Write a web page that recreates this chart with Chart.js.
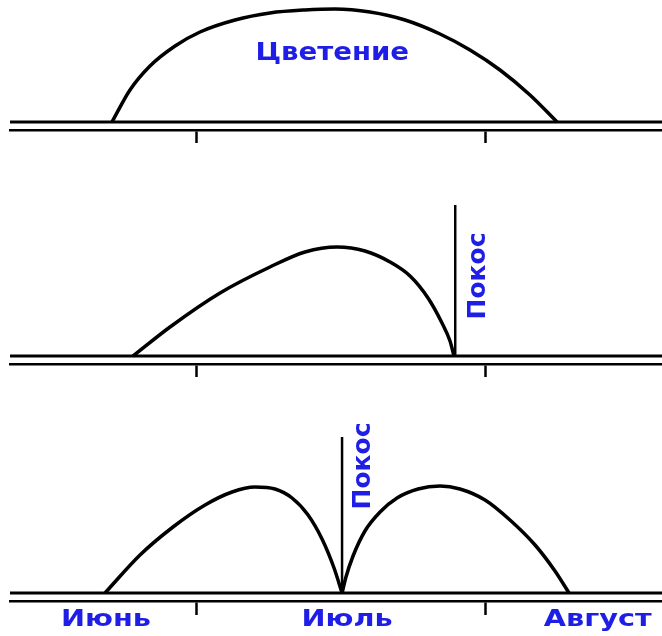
<!DOCTYPE html>
<html>
<head>
<meta charset="utf-8">
<script src="https://cdn.jsdelivr.net/npm/chart.js@4/dist/chart.umd.min.js"></script>
<style>
  html, body { margin: 0; padding: 0; background: #fff; }
  body { width: 662px; height: 636px; overflow: hidden; position: relative; }
  canvas { position: absolute; left: 0; }
</style>
</head>
<body>
<canvas id="p1" width="662" height="143" style="top:0px"></canvas>
<canvas id="p2" width="662" height="187" style="top:190px"></canvas>
<canvas id="p3" width="662" height="225" style="top:420px"></canvas>
<script>
// x = day counted from 1 June, y = plant height (arbitrary units)
var months = ["Июнь", "Июль", "Август"];
var monthLabelDays = [20.3, 46.2, 73.1];
var monthBounds = [30, 61];

// panel 1 - no mowing
var bloomDays   = [20.95, 22.88, 25.03, 27.72, 30.40, 34.16, 37.91, 41.67, 44.89, 48.65, 52.41, 56.17, 59.39, 62.61, 65.83, 68.73];
var bloomHeight = [0, 32, 56, 76, 90, 102, 109, 112, 113, 110, 102, 88, 72, 52, 27, 0];

// panel 2 - late mowing
var lateDays   = [23.21, 27.18, 32.55, 37.91, 41.67, 45.11, 48.11, 50.80, 52.95, 54.88, 56.38, 57.24, 57.67];
var lateHeight = [0, 29, 63, 89, 104, 109, 105, 94, 80, 58, 33, 15, 0];
var lateCutDay = 57.8;

// panel 3 - mowing in early July and regrowth
var earlyDays    = [20.20, 23.96, 27.50, 30.94, 33.84, 36.30, 38.45, 40.28, 42.00, 43.50, 44.79, 45.65];
var earlyHeight  = [0, 38, 66, 88, 101, 106, 104, 95, 78, 54, 25, 0];
var regrowDays   = [45.65, 46.07, 46.83, 48.11, 49.73, 51.55, 53.81, 56.17, 58.31, 61.00, 63.68, 66.37, 68.51, 70.02];
var regrowHeight = [0, 16, 37, 62, 81, 95, 104, 107, 104, 93, 73, 48, 22, 0];
var earlyCutDay = 45.65;

var cutHeights = [151, 156];

function pts(xs, ys) {
  return xs.map(function (x, i) { return { x: x, y: ys[i] }; });
}

function arch(data) {
  return { data: data, borderColor: "#000", borderWidth: 3.5, pointRadius: 0,
           cubicInterpolationMode: "monotone", fill: false };
}
function stem(day, h) {
  return { data: [{ x: day, y: 0 }, { x: day, y: h }], borderColor: "#000",
           borderWidth: 2.5, pointRadius: 0, tension: 0 };
}
function ground() {
  return { data: [{ x: 10, y: 0 }, { x: 80, y: 0 }], borderColor: "#000",
           borderWidth: 3, pointRadius: 0, tension: 0 };
}

// blue captions, placed in data units through the chart's scales
var notesPlugin = {
  id: "notes",
  afterDatasetsDraw: function (chart, args, opts) {
    var ctx = chart.ctx;
    (opts.items || []).forEach(function (n) {
      var px = chart.scales.x.getPixelForValue(n.x) + (n.dx || 0);
      var py = chart.scales.y.getPixelForValue(n.y);
      ctx.save();
      ctx.fillStyle = "#1e1ee6";
      ctx.font = "bold " + (n.size || 22) + "px 'DejaVu Sans'";
      ctx.textAlign = "center";
      ctx.textBaseline = "middle";
      ctx.translate(px, py);
      if (n.rotate) ctx.rotate(-Math.PI / 2);
      ctx.scale(n.sx || 1, 1);
      ctx.fillText(n.text, 0, 0);
      ctx.restore();
    });
  }
};

function makeChart(id, datasets, yMax, padBottom, notes) {
  return new Chart(document.getElementById(id), {
    type: "line",
    data: { datasets: datasets },
    plugins: [notesPlugin],
    options: {
      responsive: false,
      animation: false,
      layout: { padding: { left: 10, right: 0, top: 0, bottom: padBottom } },
      plugins: { legend: { display: false }, tooltip: { enabled: false }, notes: { items: notes } },
      scales: {
        x: {
          type: "linear", min: 10, max: 80,
          afterBuildTicks: function (scale) {
            scale.ticks = monthBounds.map(function (v) { return { value: v }; });
          },
          border: { display: true, color: "#000", width: 2.5 },
          grid: { drawOnChartArea: false, drawTicks: true, tickLength: padBottom ? 14 : 13,
                  tickWidth: 2.5, tickColor: "#000" },
          ticks: { display: false }
        },
        y: { display: false, min: -8, max: yMax }
      }
    }
  });
}

makeChart("p1", [ground(), arch(pts(bloomDays, bloomHeight))], 122, 0,
  [{ text: "Цветение", x: 44.6, y: 68, size: 24, sx: 1.15 }]);

makeChart("p2", [ground(), arch(pts(lateDays, lateHeight)), stem(lateCutDay, cutHeights[0])], 166, 0,
  [{ text: "Покос", x: lateCutDay, dx: 23, y: 80, size: 25, rotate: true }]);

var monthNotes = months.map(function (m, i) {
  return { text: m, x: monthLabelDays[i], y: -27, size: 23, sx: 1.25 };
});
makeChart("p3", [ground(), arch(pts(earlyDays, earlyHeight)), arch(pts(regrowDays, regrowHeight)),
  stem(earlyCutDay, cutHeights[1])], 173, 30,
  [{ text: "Покос", x: earlyCutDay, dx: 21, y: 127, size: 25, rotate: true }].concat(monthNotes));
</script>
</body>
</html>
